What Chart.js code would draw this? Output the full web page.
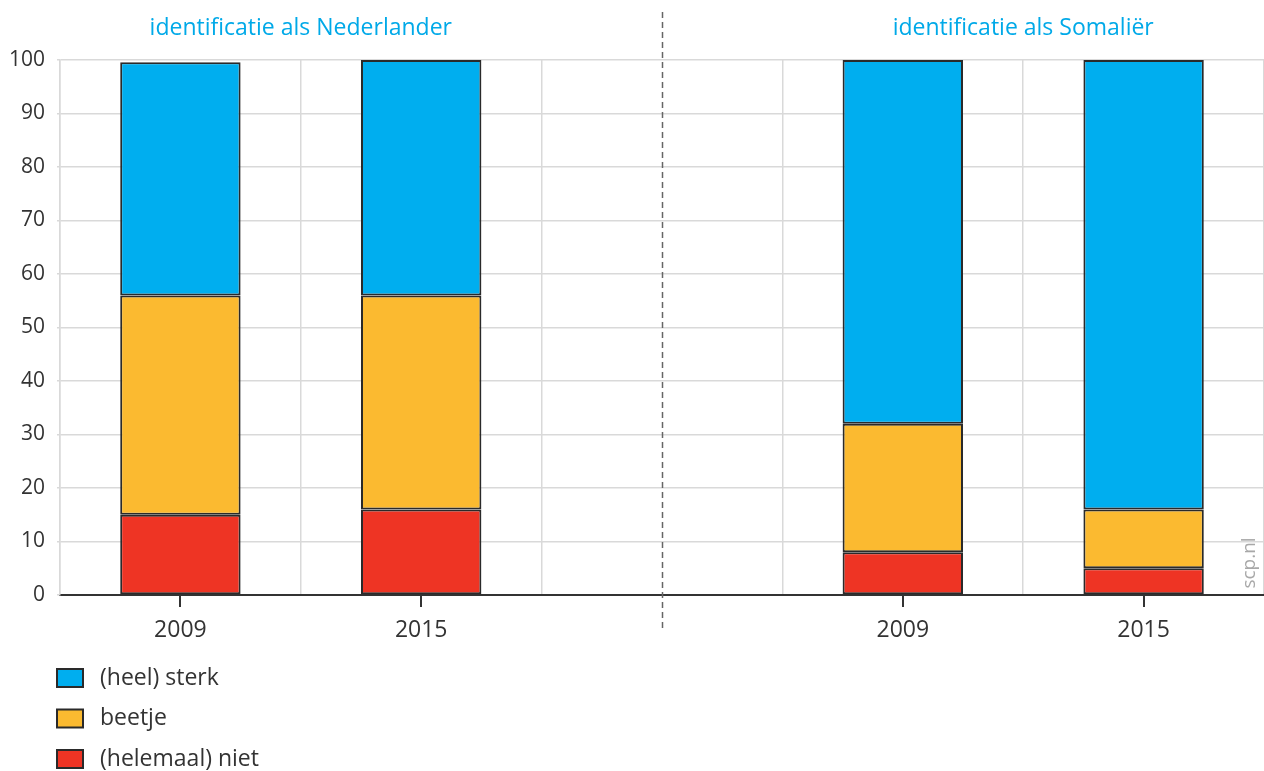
<!DOCTYPE html>
<html>
<head>
<meta charset="utf-8">
<script src="https://cdn.jsdelivr.net/npm/chart.js@4/dist/chart.umd.min.js"></script>
<style>
html,body{margin:0;padding:0;background:#fff;}
#wrap{width:1264px;height:771px;position:relative;}
</style>
</head>
<body>
<div id="wrap"><canvas id="c" width="1264" height="771"></canvas></div>
<script>
// ---- data ----
const categories = ['2009', '2015', '', '2009', '2015'];
const niet   = [15, 16, null, 8, 5];
const beetje = [41, 40, null, 24, 11];
const sterk  = [43.6, 44, null, 68, 84];
const seriesLabels = ['(helemaal) niet', 'beetje', '(heel) sterk'];
const groupTitles = ['identificatie als Nederlander', 'identificatie als Somaliër'];
const watermark = 'scp.nl';

const FONT = "'Open Sans', 'Noto Sans', sans-serif";
const colors = ['#ee3424', '#fbba30', '#00aeef'];

const overlay = {
  id: 'overlay',
  afterDraw(chart) {
    const ctx = chart.ctx;
    const xs = chart.scales.x;
    const area = chart.chartArea;
    ctx.save();
    // tick marks at category centres
    ctx.strokeStyle = '#333';
    ctx.lineWidth = 2;
    categories.forEach((c, i) => {
      if (!c) return;
      const px = Math.round(xs.getPixelForValue(i));
      ctx.beginPath();
      ctx.moveTo(px, area.bottom);
      ctx.lineTo(px, area.bottom + 12);
      ctx.stroke();
    });
    // dashed separator at the empty category
    const sepX = Math.round(xs.getPixelForValue(2)) + 0.5;
    ctx.strokeStyle = '#666';
    ctx.lineWidth = 1.5;
    ctx.setLineDash([6, 4]);
    ctx.beginPath();
    ctx.moveTo(sepX, 12);
    ctx.lineTo(sepX, area.bottom + 36);
    ctx.stroke();
    ctx.setLineDash([]);
    // group titles
    ctx.fillStyle = '#00a9e8';
    ctx.font = '23px ' + FONT;
    ctx.textAlign = 'center';
    ctx.textBaseline = 'middle';
    ctx.fillText(groupTitles[0], xs.getPixelForValue(0.5), 28);
    ctx.fillText(groupTitles[1], xs.getPixelForValue(3.5), 28);
    // watermark
    ctx.save();
    ctx.translate(1250, 563);
    ctx.rotate(-Math.PI / 2);
    ctx.fillStyle = '#a8a8a8';
    ctx.font = '19px ' + FONT;
    ctx.textAlign = 'center';
    ctx.textBaseline = 'middle';
    ctx.fillText(watermark, 0, 0);
    ctx.restore();
    // legend (reverse order, vertical)
    const ds = chart.data.datasets.slice().reverse();
    ds.forEach((d, i) => {
      const cy = 678 + i * 40.5;
      ctx.fillStyle = d.backgroundColor;
      ctx.fillRect(57, cy - 9, 26, 18);
      ctx.strokeStyle = '#2a2a2a';
      ctx.lineWidth = 2;
      ctx.strokeRect(57, cy - 9, 26, 18);
      ctx.fillStyle = '#333';
      ctx.font = '23px ' + FONT;
      ctx.textAlign = 'left';
      ctx.textBaseline = 'middle';
      ctx.fillText(d.label, 100, cy);
    });
    ctx.restore();
  }
};

new Chart(document.getElementById('c'), {
  type: 'bar',
  data: {
    labels: categories,
    datasets: [
      { label: seriesLabels[0], data: niet, backgroundColor: colors[0] },
      { label: seriesLabels[1], data: beetje, backgroundColor: colors[1] },
      { label: seriesLabels[2], data: sterk, backgroundColor: colors[2] }
    ].map(d => Object.assign(d, {
      borderColor: '#2a2a2a', borderWidth: 2, borderSkipped: false,
      barPercentage: 0.5, categoryPercentage: 1.0
    }))
  },
  options: {
    responsive: false,
    animation: false,
    layout: { padding: { top: 60, bottom: 116, left: 0, right: 0 } },
    plugins: { legend: { display: false }, tooltip: { enabled: false } },
    scales: {
      x: {
        stacked: true,
        grid: { offset: true, color: '#d9d9d9', lineWidth: 1.5, drawTicks: false },
        border: { color: '#333', width: 2 },
        ticks: { color: '#333', font: { family: FONT, size: 23 }, padding: 22, maxRotation: 0, autoSkip: false },
        afterFit(s) { s.height = 60; }
      },
      y: {
        stacked: true,
        min: 0, max: 100,
        grid: { color: '#d9d9d9', lineWidth: 1.5, tickLength: 3 },
        border: { color: '#d9d9d9', width: 1.5 },
        ticks: { stepSize: 10, color: '#333', font: { family: FONT, size: 21 }, padding: 12 },
        afterFit(s) { s.width = 60; }
      }
    }
  },
  plugins: [overlay]
});
</script>
</body>
</html>
